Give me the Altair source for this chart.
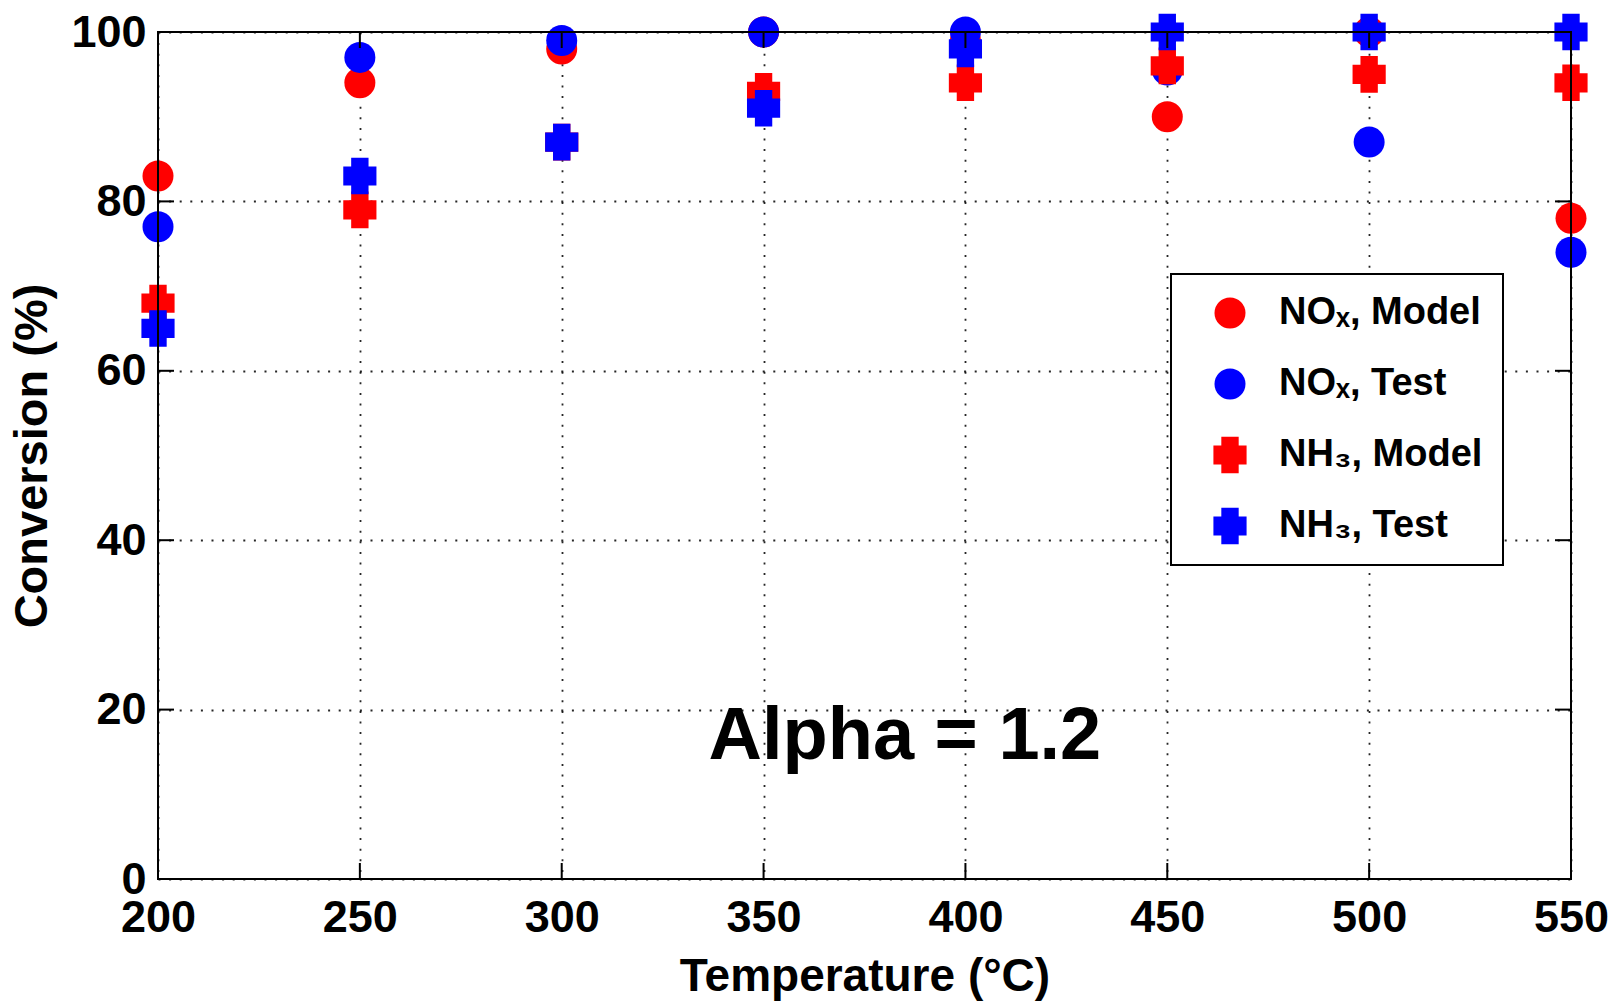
import altair as alt
import pandas as pd

# Inlet temperature (deg C) and conversion (%) for each series
temps = [200, 250, 300, 350, 400, 450, 500, 550]
nox_model = [83, 94, 98, 100, 99, 90, 100, 78]
nox_test = [77, 97, 99, 100, 100, 95.5, 87, 74]
nh3_model = [68, 79, 87, 93, 94, 96, 95, 94]
nh3_test = [65, 83, 87, 91, 98, 100, 100, 100]

series_names = ["NOₓ, Model", "NOₓ, Test", "NH₃, Model", "NH₃, Test"]
series_values = [nox_model, nox_test, nh3_model, nh3_test]
series_colors = ["#ff0000", "#0000ff", "#ff0000", "#0000ff"]

x_ticks = [200, 250, 300, 350, 400, 450, 500, 550]
y_ticks = [0, 20, 40, 60, 80, 100]

note_text = ["Alpha = 1.2"]
note_x = [385]
note_y = [14.2]

W, H = 1413, 847
FONT = "Liberation Sans"
PLUS = ("M-0.56,-1.18H0.56V-0.62H1.07V0.62H0.56V1.18H-0.56V0.62"
        "H-1.07V-0.62H-0.56Z")
series_shapes = ["circle", "circle", PLUS, PLUS]

rows = []
for k, (name, vals) in enumerate(zip(series_names, series_values)):
    for t, v in zip(temps, vals):
        rows.append({"temp": t, "conv": v, "series": name, "order": k})
df = pd.DataFrame(rows)

x_scale = alt.Scale(domain=[200, 550], nice=False, zero=False)
y_scale = alt.Scale(domain=[0, 100], nice=False, zero=False)
X_TITLE = "Temperature (°C)"
Y_TITLE = "Conversion (%)"


def xenc(field):
    return alt.X(field, type="quantitative", scale=x_scale,
                 axis=alt.Axis(values=x_ticks, title=X_TITLE,
                               labelPadding=16, titlePadding=14,
                               titleFontSize=46))


def yenc(field):
    return alt.Y(field, type="quantitative", scale=y_scale,
                 axis=alt.Axis(values=y_ticks, title=Y_TITLE,
                               labelPadding=12, titlePadding=14,
                               titleFontSize=47))


points = alt.Chart(df).mark_point(filled=True, opacity=1, size=961,
                                  strokeWidth=0).encode(
    x=xenc("temp"),
    y=yenc("conv"),
    color=alt.Color("series:N",
                    scale=alt.Scale(domain=series_names, range=series_colors),
                    legend=alt.Legend(title=None)),
    shape=alt.Shape("series:N",
                    scale=alt.Scale(domain=series_names, range=series_shapes),
                    legend=alt.Legend(title=None)),
    order=alt.Order("order:Q"),
)

inner_x = pd.DataFrame({"t": x_ticks[1:-1]})
inner_y = pd.DataFrame({"v": y_ticks[1:-1]})
TL = 16

tick_style = dict(color="#000000", strokeWidth=2)
ticks_bottom = alt.Chart(inner_x).mark_rule(**tick_style).encode(
    x=xenc("t"), y=alt.value(H), y2=alt.value(H - TL))
ticks_top = alt.Chart(inner_x).mark_rule(**tick_style).encode(
    x=xenc("t"), y=alt.value(0), y2=alt.value(TL))
ticks_left = alt.Chart(inner_y).mark_rule(**tick_style).encode(
    y=yenc("v"), x=alt.value(0), x2=alt.value(TL))
ticks_right = alt.Chart(inner_y).mark_rule(**tick_style).encode(
    y=yenc("v"), x=alt.value(W), x2=alt.value(W - TL))

frame = alt.Chart(pd.DataFrame({"k": [0]})).mark_rect(
    filled=False, stroke="#000000", strokeWidth=2).encode(
    x=alt.value(0), x2=alt.value(W), y=alt.value(0), y2=alt.value(H))

note = alt.Chart(pd.DataFrame({"label": note_text, "x": note_x,
                               "y": note_y})).mark_text(
    font=FONT, fontSize=74, fontWeight="bold", color="#000000",
    align="center", baseline="alphabetic").encode(
    x=xenc("x"), y=yenc("y"), text="label:N")

chart = alt.layer(
    points, ticks_bottom, ticks_top, ticks_left, ticks_right, frame, note
).properties(
    width=W, height=H,
    background="#ffffff",
    autosize=alt.AutoSizeParams(type="none"),
    padding={"left": 158, "top": 32, "right": 43, "bottom": 126},
).configure_view(
    stroke=None
).configure_axis(
    grid=True, gridColor="#000000", gridOpacity=0.85, gridWidth=1.8,
    gridDash=[2, 8.6], domain=False, ticks=False,
    labelFont=FONT, labelFontSize=45, labelFontWeight="bold",
    labelColor="#000000", titleFont=FONT,
    titleFontWeight="bold", titleColor="#000000", labelFlush=False,
).configure_legend(
    orient="none", legendX=1013, legendY=242,
    strokeColor="#000000", strokeWidth=2, fillColor="#ffffff",
    padding=20, symbolOffset=20, labelOffset=30, rowPadding=33,
    symbolSize=961, symbolStrokeWidth=0, symbolOpacity=1,
    labelFont=FONT, labelFontSize=38, labelFontWeight="bold",
    labelColor="#000000", labelLimit=400,
)

chart.save("out.html", embed_options={"renderer": "svg", "actions": False})
